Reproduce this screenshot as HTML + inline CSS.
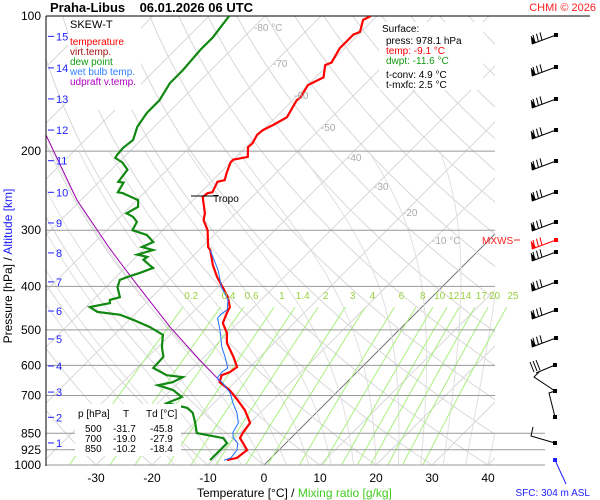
<!DOCTYPE html>
<html><head><meta charset="utf-8"><style>
html,body{margin:0;padding:0;background:#fff}
svg{display:block;font-family:"Liberation Sans",sans-serif}
</style></head><body>
<svg id="c" width="600" height="500" viewBox="0 0 600 500" xmlns="http://www.w3.org/2000/svg">
<defs><clipPath id="plot"><rect x="46" y="16" width="449" height="449"/></clipPath>
<clipPath id="mix"><rect x="46" y="16" width="490" height="449"/></clipPath></defs>
<g id="bg" clip-path="url(#plot)"></g>
<g id="mixg" clip-path="url(#mix)"></g>
<g id="iso"></g>
<g id="series" clip-path="url(#plot)"></g>
<g id="axes"></g>
<g id="wind"></g>
</svg>
<script>
const tempP=[100,102,108.5,110,118,127,128.6,137,142.5,152,154,168,175,179.5,184,192,196,206,209,212,224,232,234,247,248,253,275,285,300,327,332,359,381,402,423,445,458,483,508,535,574,605,621,631,654,681,717,755,806,849,871,926,964,975];
const tempT=[-61.1,-61.8,-60.2,-60.9,-60.9,-59.8,-60.5,-58.6,-60,-59.1,-59.3,-58,-59.1,-60,-60.2,-59.5,-59.6,-57.9,-60,-60,-58.8,-57.9,-58.9,-57.9,-58.6,-58.8,-55.5,-54.5,-52,-48.9,-48,-44.8,-42,-39.1,-36.4,-34.3,-33.8,-32.7,-30.2,-28.4,-24.8,-22.3,-22.7,-23.6,-22.7,-19.5,-16.3,-13.2,-10,-9.5,-9.1,-5.7,-6.1,-7.5];
const dewP=[100,106.4,111.4,119,132,141,154,164.5,176.7,188.9,196.8,204,207,212,220,228,234,235,247,248,257,266,275,280,287.5,300,307.5,318.6,327,332,340,344,349,359,364,373,381,387,402,423,429,436,445,456,463,475,493,513,546,574,608,631,637,654,664,681,706,728,746,766,806,849,871,894,926,975];
const dewT=[-86.4,-85.9,-85.5,-85.5,-85,-85,-83.8,-83.8,-83,-81.4,-81.8,-81.6,-81.4,-79.3,-77.1,-76.8,-76.6,-75.5,-74.8,-73.8,-69.8,-68.6,-69.5,-67.7,-66.1,-65.4,-62,-59.6,-60.7,-58.2,-60.2,-58,-58.2,-56.1,-55,-56.4,-57.9,-58.8,-57.9,-55.7,-57,-56.4,-59.3,-57.1,-52.5,-49.3,-45,-41.3,-39.3,-37.3,-37.1,-33.4,-30.2,-31.1,-33.2,-29.6,-26.8,-28.4,-23.9,-22,-19.8,-17.7,-12.1,-10.5,-10.5,-10.5];
const wetP=[332,368,402,429,451,463,471,500,546,574,608,621,640,656,691,728,766,806,845,867,894,926,964,975];
const wetT=[-48,-43,-39.3,-35.9,-34.3,-34.6,-34.5,-32,-28.6,-26.3,-23.8,-24.1,-23.9,-22.1,-18.9,-16.6,-14.1,-12.1,-11.4,-10.5,-8.6,-7.5,-7.2,-8];
const parcelP=[184,257,329,387,493,584,640,656];
const parcelT=[-97.9,-80.7,-66.3,-56.4,-41.4,-30.2,-23.9,-22.5];
const isobarP=[100,200,300,400,500,600,700,850,925,1000];
const xTicks=[-30,-20,-10,0,10,20,30,40];
const altKm=[15,14,13,12,11,10,9,8,7,6,5,4,3,2,1];
const altP=[111,130.5,153,179.5,210,247,289,337,391,454,524,602,688,783,893];
const mixW=[0.2,0.4,0.6,1,1.4,2,3,4,6,8,10,12,14,17,20,25];
const mixLab=["0.2","0.4","0.6","1","1.4","2","3","4","6","8","10","12","14","17","20","25"];

const NS="http://www.w3.org/2000/svg";
function Y(p){return 16+449*Math.log10(p/100);}
function X(t,p){return 264+5.6*t+(465-Y(p));}
function mk(parent,tag,attrs,txt){const e=document.createElementNS(NS,tag);for(const k in attrs)e.setAttribute(k,attrs[k]);if(txt!==undefined)e.textContent=txt;document.getElementById(parent).appendChild(e);return e;}
function path(ps,ts){return ps.map((p,i)=>(i?'L':'M')+X(ts[i],p).toFixed(1)+' '+Y(p).toFixed(1)).join(' ');}
function plist(pts){return pts.map((q,i)=>(i?'L':'M')+q[0].toFixed(1)+' '+q[1].toFixed(1)).join(' ');}

// isotherms
for(let t=-130;t<=40;t+=10){
  const e=mk('bg','line',{x1:X(t,1000),y1:465,x2:X(t,100),y2:16,stroke:t===0?'#777':'#d8d8d8','stroke-width':1});
  
  
}
// dry adiabats
for(let th=-40;th<=200;th+=10){
  const pts=[];for(let p=1000;p>=100;p-=10){const T=(th+273.15)*Math.pow(p/1000,0.2857)-273.15;pts.push([X(T,p),Y(p)]);}
  const e=mk('bg','path',{d:plist(pts),fill:'none',stroke:'#d8d8d8','stroke-width':1});
  
  
}
// moist adiabats
function es(T){return 6.112*Math.exp(17.67*T/(T+243.5));}
for(let t0=-16;t0<=40;t0+=4){
  let T=t0+273.15;const pts=[];
  for(let p=1000;p>=200;p-=5){
    pts.push([X(T-273.15,p),Y(p)]);
    const rs=0.622*es(T-273.15)/(p-es(T-273.15));
    const dT=(287*T+2.5e6*rs)/(1004+2.5e6*2.5e6*rs*0.622/(287*T*T))/p;
    T-=dT*5;
  }
  const e=mk('bg','path',{d:plist(pts),fill:'none',stroke:'#e0e0e0','stroke-width':1});
  
  
}
// mixing ratio lines
function tdFor(w,p){const e=w*p/(622+w);const l=Math.log(e/6.112);return 243.5*l/(17.67-l);}
mixW.forEach((w,i)=>{
  const pts=[];for(let p=1000;p>=435;p-=15){pts.push([X(tdFor(w,p),p),Y(p)]);}
  const e=mk('mixg','path',{d:plist(pts),fill:'none',stroke:'#a8f080','stroke-width':1});
  
  
  const lx=X(tdFor(w,420),420);
  const t=mk('axes','text',{x:lx,y:299,'font-size':10,fill:'#9ad040','text-anchor':'middle'},mixLab[i]);
  
  
});
// isotherm labels
[[-80,254,31,'-80 °C'],[-70,273,67,'-70'],[-60,294,99,'-60'],[-50,321,131,'-50'],[-40,347,161,'-40'],[-30,374,190,'-30'],[-20,403,216,'-20'],[-10,432,244,'-10 °C']].forEach(a=>{
  const t=mk('axes','text',{x:a[1],y:a[2],'font-size':10,fill:'#aaa'},a[3]);
  
  
});
// isobars
isobarP.forEach(p=>{
  const e=mk('iso','line',{x1:46,y1:Y(p),x2:p===100?590:(p>=850?545:495),y2:Y(p),stroke:p===100?'#000':'#999','stroke-width':1});
  
  
  const t=mk('axes','text',{x:41,y:Y(p)+4,'font-size':12,'text-anchor':'end',fill:'#000'},String(p));
  
  
});
// series
const s1=mk('series','path',{d:path(parcelP,parcelT),fill:'none',stroke:'#a000b0','stroke-width':1});


const s2=mk('series','path',{d:path(dewP,dewT),fill:'none',stroke:'#118811','stroke-width':2.2});


const s3=mk('series','path',{d:path(tempP,tempT),fill:'none',stroke:'#ff0000','stroke-width':2.2});


const s4=mk('series','path',{d:path(wetP,wetT),fill:'none',stroke:'#2070ff','stroke-width':1});


// axes
const ax=mk('axes','line',{x1:46,y1:16,x2:46,y2:466,stroke:'#000','stroke-width':1});


xTicks.forEach(t=>{
  const e=mk('axes','text',{x:X(t,1000),y:482,'font-size':12,'text-anchor':'middle',fill:'#000'},String(t));
  
  
});
altKm.forEach((k,i)=>{
  const y=Y(altP[i]);
  const l=mk('axes','line',{x1:48,y1:y,x2:54,y2:y,stroke:'#2020ff','stroke-width':1});
  
  
  const t=mk('axes','text',{x:56,y:y+4,'font-size':11,fill:'#2020ff'},String(k));
  
  
});
</script>
<script>
// static annotations
const svg=document.getElementById('c');
svg.insertAdjacentHTML('beforeend',`
<text x="50" y="12" font-size="13" font-weight="bold" fill="#000">Praha-Libus&#160;&#160;&#160;&#160;06.01.2026 06 UTC</text>
<text x="596" y="11" font-size="11" fill="#ff2020" text-anchor="end">CHMI © 2026</text>
<g>
<rect x="68" y="17" width="73" height="93" fill="#fff"/>
<text x="70" y="28" font-size="11" fill="#000">SKEW-T</text>
<text x="70" y="45" font-size="10" fill="#ff0000">temperature</text>
<text x="70" y="55" font-size="10" fill="#a01010">virt.temp.</text>
<text x="70" y="65" font-size="10" fill="#119911">dew point</text>
<text x="70" y="75" font-size="10" fill="#3080ff">wet bulb temp.</text>
<text x="70" y="85" font-size="10" fill="#b000c0">udpraft v.temp.</text>
</g>
<g>
<rect x="379" y="22" width="104" height="68" fill="#fff"/>
<text x="382" y="32" font-size="10" fill="#000">Surface:</text>
<text x="386" y="44" font-size="10" fill="#000">press: 978.1 hPa</text>
<text x="386" y="54" font-size="10" fill="#ff0000">temp: -9.1 °C</text>
<text x="386" y="64" font-size="10" fill="#119911">dwpt: -11.6 °C</text>
<text x="386" y="78" font-size="10" fill="#000">t-conv: 4.9 °C</text>
<text x="386" y="88" font-size="10" fill="#000">t-mxfc: 2.5 °C</text>
</g>
<g>
<rect x="75" y="404" width="106" height="52" fill="#fff"/>
<text x="78" y="417" font-size="10" fill="#000">p [hPa]</text><text x="123" y="417" font-size="10" fill="#000">T</text><text x="146" y="417" font-size="10" fill="#000">Td [°C]</text>
<text x="85" y="432" font-size="10">500</text><text x="113" y="432" font-size="10">-31.7</text><text x="150" y="432" font-size="10">-45.8</text>
<text x="85" y="442" font-size="10">700</text><text x="113" y="442" font-size="10">-19.0</text><text x="150" y="442" font-size="10">-27.9</text>
<text x="85" y="452" font-size="10">850</text><text x="113" y="452" font-size="10">-10.2</text><text x="150" y="452" font-size="10">-18.4</text>
</g>
<line x1="191" y1="196" x2="218" y2="196" stroke="#000"/>
<text x="213" y="202" font-size="10" fill="#000">Tropo</text>
<text x="482" y="244" font-size="10" fill="#ff2020">MXWS</text>
<line x1="514" y1="240" x2="520" y2="240" stroke="#ff2020"/>
<text x="4" y="258" font-size="12" transform="rotate(-90 12 258)" text-anchor="middle"><tspan fill="#000">Pressure [hPa]</tspan><tspan fill="#000">  /  </tspan><tspan fill="#2020ff">Altitude [km]</tspan></text>
<text x="197" y="497" font-size="12" fill="#000">Temperature [°C]  /  <tspan fill="#44cc22">Mixing ratio [g/kg]</tspan></text>
<text x="590" y="496" font-size="10" fill="#2020ff" text-anchor="end">SFC: 304 m ASL</text>
<line x1="555" y1="460" x2="566" y2="484" stroke="#2020ff"/>
<rect x="553" y="458" width="4" height="4" fill="#2020ff"/>
`);
const barbY=[35,67,99,130,161,192,222,240,252,282,310,338];
barbY.forEach((y,i)=>{
  const col=i===7?'#ff0000':'#000';
  let s=`<g stroke="${col}" fill="${col}">`;
  s+=`<line x1="556" y1="${y}" x2="532" y2="${y+9}"/>`;
  s+=`<rect x="554" y="${y-2}" width="4" height="4" stroke="none"/>`;
  s+=`<polygon points="531,${y+1} 532,${y+9} 536,${y+7.5}" stroke-width="0.5"/>`;
  for(let k=0;k<3;k++){const bx=535+k*3.5,by=y+8-k*1.3;s+=`<line x1="${bx}" y1="${by}" x2="${bx-2}" y2="${by-8}"/>`;}
  s+='</g>';
  document.getElementById('wind').insertAdjacentHTML('beforeend',s);
});
document.getElementById('wind').insertAdjacentHTML('beforeend',`
<g stroke="#000" fill="none">
<path d="M555 365 L536 373 M534 372 L530 362 M537 371 L533 361 M540 370 L536 360"/>
<path d="M555 391 L534 377 L540 371 M555 417 L549 393 L555 391 M555 443 L531 436 L533 427"/>
<rect x="553" y="363" width="4" height="4" fill="#000" stroke="none"/>
<rect x="553" y="389" width="4" height="4" fill="#000" stroke="none"/>
<rect x="553" y="415" width="4" height="4" fill="#000" stroke="none"/>
<rect x="553" y="441" width="4" height="4" fill="#000" stroke="none"/>
</g>`);
</script>
</body></html>
